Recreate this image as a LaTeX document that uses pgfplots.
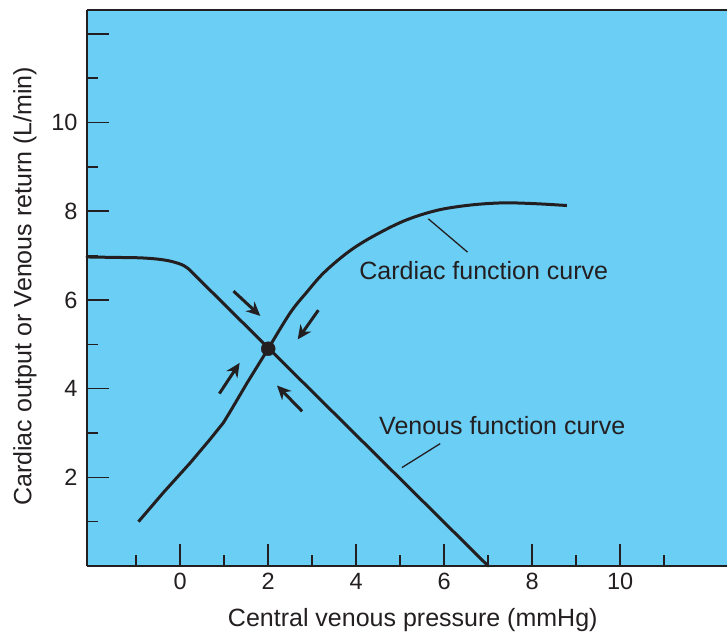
\documentclass[border=0pt]{standalone}
\usepackage{fontspec}
\setmainfont{Liberation Sans}
\usepackage{pgfplots}
\pgfplotsset{compat=1.18}
\usetikzlibrary{arrows.meta}
\definecolor{bg}{RGB}{107,206,245}
\definecolor{ink}{RGB}{35,31,32}

\begin{document}
\begin{tikzpicture}
\begin{axis}[
  scale only axis, width=640pt, height=556pt,
  xmin=-2.12, xmax=12.43, ymin=0, ymax=12.54,
  axis background/.style={fill=bg},
  axis x line*=bottom, axis y line*=left,
  axis line style={ink, line width=1.6pt, -},
  every outer x axis line/.append style={-},
  every outer y axis line/.append style={-},
  xtick={0,2,...,10}, minor xtick={-1,1,...,11},
  ytick={2,4,...,12}, yticklabels={2,4,6,8,10,{}}, minor ytick={1,3,...,11},
  tick align=inside,
  major tick length=22pt, minor tick length=11pt,
  tick style={ink, line width=1.6pt},
  ticklabel style={font=\fontsize{23.5}{27}\selectfont, text=ink},
  /pgf/number format/assume math mode=true,
  xticklabel style={yshift=-3.5pt},
  yticklabel style={xshift=-6pt},
  xlabel={Central venous pressure (mmHg)},
  ylabel={Cardiac output or Venous return (L/min)},
  label style={font=\fontsize{25}{30}\selectfont, text=ink},
  x label style={at={([yshift=-54pt]axis description cs:0.509,0)}, anchor=center},
  y label style={at={([xshift=-62pt]axis description cs:0,0.503)}, anchor=center},
  clip=false,
]
% top border
\draw[ink, line width=1.6pt] (rel axis cs:0,1) -- (rel axis cs:1,1);

% venous function curve
\addplot[ink, line width=3pt, smooth, tension=0.5, line cap=round] coordinates {
  (-2.12,6.97) (-1.5,6.96) (-0.91,6.95) (-0.5,6.92) (-0.2,6.87)
  (0.05,6.79) (0.19,6.70)
};
\addplot[ink, line width=3pt, line cap=round] coordinates {(0.19,6.70) (7.0,0.0)};
% cardiac function curve
\addplot[ink, line width=3pt, line join=round] coordinates {
  (-0.95,1.00) (-0.38,1.66) (0.23,2.33) (0.68,2.86) (0.98,3.23)
  (1.14,3.49) (1.52,4.13) (2.0,4.90)
};
\addplot[ink, line width=3pt, smooth, tension=0.55] coordinates {
  (2.0,4.90) (2.5,5.71) (2.88,6.18) (3.26,6.61) (3.79,7.06)
  (4.32,7.40) (5.08,7.78) (5.83,8.02) (6.59,8.14) (7.35,8.19)
  (8.1,8.17) (8.79,8.13)
};
% equilibrium point
\addplot[only marks, mark=*, mark size=7pt, ink] coordinates {(2,4.9)};

% arrows
\addplot[ink, line width=3pt, -{Stealth[length=14pt,width=13pt]}] coordinates {(1.21,6.20) (1.82,5.64)};
\addplot[ink, line width=3pt, -{Stealth[length=14pt,width=13pt]}] coordinates {(3.14,5.77) (2.67,5.11)};
\addplot[ink, line width=3pt, -{Stealth[length=14pt,width=13pt]}] coordinates {(0.89,3.89) (1.35,4.58)};
\addplot[ink, line width=3pt, -{Stealth[length=14pt,width=13pt]}] coordinates {(2.77,3.49) (2.20,4.07)};

% leader lines
\addplot[ink, line width=1.3pt] coordinates {(5.64,7.83) (6.53,7.08)};
\addplot[ink, line width=1.3pt] coordinates {(5.04,2.22) (5.91,2.76)};

\node[font=\fontsize{25}{30}\selectfont, text=ink] at (axis cs:6.9,6.66) {Cardiac function curve};
\node[font=\fontsize{25}{30}\selectfont, text=ink] at (axis cs:7.32,3.17) {Venous function curve};
\end{axis}
\pgfresetboundingbox
\path[use as bounding box] ([xshift=-87pt,yshift=-70pt]current axis.south west) rectangle ([yshift=10pt]current axis.north east);
\end{tikzpicture}
\end{document}
